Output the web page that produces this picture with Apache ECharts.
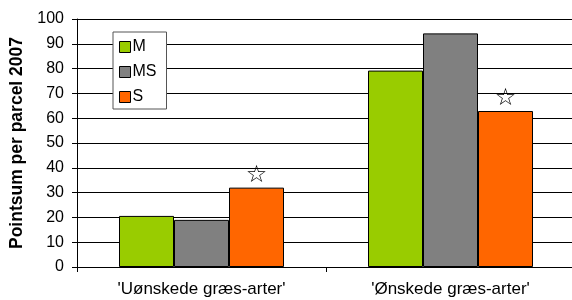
<!DOCTYPE html>
<html>
<head>
<meta charset="utf-8">
<script src="https://cdn.jsdelivr.net/npm/echarts@6/dist/echarts.min.js"></script>
<style>
  html, body { margin: 0; padding: 0; background: #fff; }
  #chart { width: 572px; height: 300px; }
</style>
</head>
<body>
<div id="chart"></div>
<script>
const categories = ["'Uønskede græs-arter'", "'Ønskede græs-arter'"]
const seriesNames = ['M', 'MS', 'S']
const valuesM = [20.6, 79.2]
const valuesMS = [19.0, 94.2]
const valuesS = [32.0, 62.9]
const colors = ['#99CC00', '#808080', '#FF6600']
// stjerne over S-søjlerne
const starred = [true, true]

const chart = echarts.init(document.getElementById('chart'), null, { renderer: 'canvas' })

const font = 'Liberation Sans, Arial, sans-serif'

function barSeries (name, data, color, withStar) {
  const s = {
    name: name,
    type: 'bar',
    data: data,
    barWidth: 55,
    barGap: '0%',
    itemStyle: { color: color, borderColor: '#000', borderWidth: 1 }
  }
  if (withStar) {
    s.label = {
      show: true,
      position: 'top',
      distance: 0,
      formatter: p => (starred[p.dataIndex] ? '☆' : ''),
      fontFamily: 'DejaVu Sans',
      fontSize: 24,
      color: '#000'
    }
  }
  return s
}

chart.setOption({
  animation: false,
  backgroundColor: '#fff',
  textStyle: { fontFamily: font },
  grid: { left: 77, right: -3, top: 19, bottom: 33, outerBoundsMode: 'none', containLabel: false },
  legend: {
    orient: 'vertical',
    left: 113,
    top: 32,
    padding: [7, 10, 4, 6],
    itemGap: 9,
    itemWidth: 11,
    itemHeight: 11,
    backgroundColor: '#fff',
    borderColor: '#555',
    borderWidth: 1,
    icon: 'rect',
    textStyle: { fontSize: 16, color: '#000', padding: [0, 0, 0, -3] },
    data: seriesNames.map((n, i) => ({ name: n, itemStyle: { color: colors[i], borderColor: '#000', borderWidth: 1 } }))
  },
  xAxis: {
    type: 'category',
    data: categories,
    axisLine: { lineStyle: { color: '#000', width: 1 } },
    axisTick: { show: true, alignWithLabel: false, length: 5, lineStyle: { color: '#000' } },
    axisLabel: { fontSize: 17, color: '#000', margin: 14 }
  },
  yAxis: {
    type: 'value',
    min: 0,
    max: 100,
    interval: 10,
    name: 'Pointsum per parcel 2007',
    nameLocation: 'middle',
    nameGap: 51,
    nameTextStyle: { fontSize: 17.5, fontWeight: 'bold', color: '#000' },
    axisLine: { show: true, lineStyle: { color: '#000', width: 1 } },
    axisTick: { show: true, length: 5, lineStyle: { color: '#000' } },
    axisLabel: { fontSize: 16, color: '#000', margin: 13 },
    splitLine: { show: true, lineStyle: { color: '#000', width: 1 } }
  },
  series: [
    barSeries(seriesNames[0], valuesM, colors[0], false),
    barSeries(seriesNames[1], valuesMS, colors[1], false),
    barSeries(seriesNames[2], valuesS, colors[2], true)
  ]
})
</script>
</body>
</html>
